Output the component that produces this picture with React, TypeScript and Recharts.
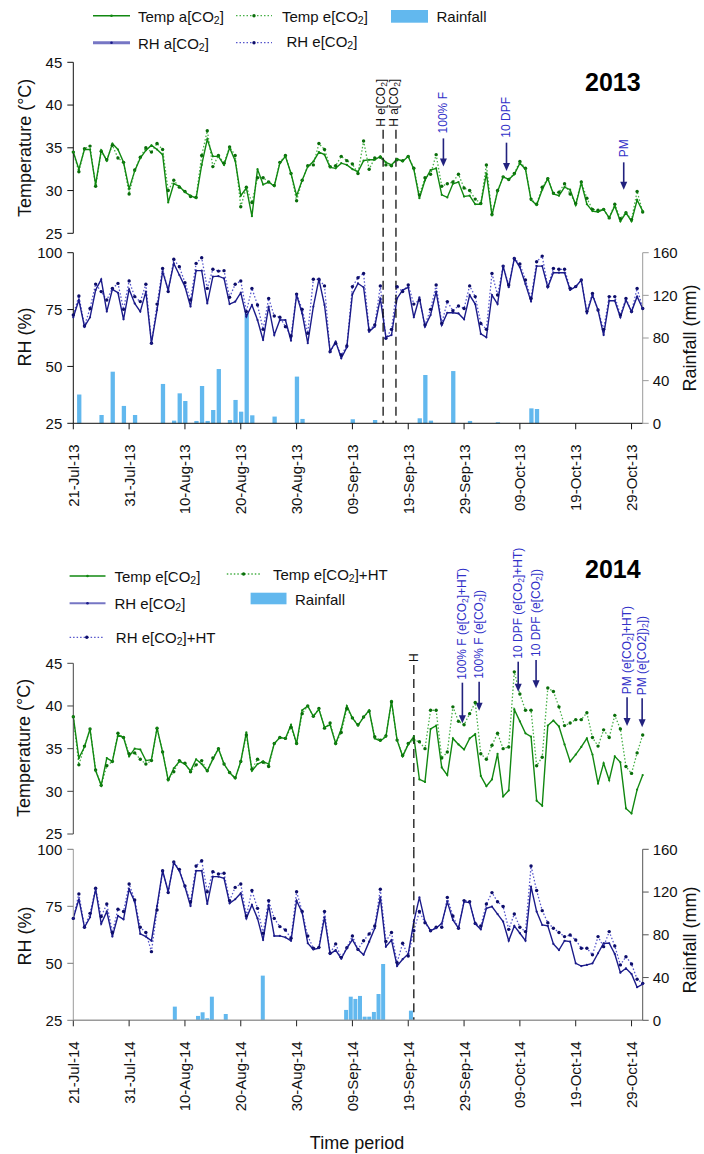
import React from 'react';
import { ComposedChart, Line, Bar, XAxis, YAxis, ReferenceLine } from 'recharts';

const FONT = "'Liberation Sans', Arial, Helvetica, sans-serif";

// ---------- categories / tick labels ----------
const dayTicks = [0, 10, 20, 30, 40, 50, 60, 70, 80, 90, 100];
const dateLabels13 = ['21-Jul-13', '31-Jul-13', '10-Aug-13', '20-Aug-13', '30-Aug-13', '09-Sep-13', '19-Sep-13', '29-Sep-13', '09-Oct-13', '19-Oct-13', '29-Oct-13'];
const dateLabels14 = ['21-Jul-14', '31-Jul-14', '10-Aug-14', '20-Aug-14', '30-Aug-14', '09-Sep-14', '19-Sep-14', '29-Sep-14', '09-Oct-14', '19-Oct-14', '29-Oct-14'];
const tempTicks = [25, 30, 35, 40, 45];
const rhTicks = [25, 50, 75, 100];
const rainTicks = [0, 40, 80, 120, 160];

// ---------- 2013 series (day 0 = 21-Jul) ----------
const temp13A = [34.5, 32.5, 34.8, 34.8, 30.7, 34.7, 33.5, 35.5, 34.8, 33.3,
  30.2, 32.3, 33.8, 34.7, 35.3, 34.8, 34.2, 28.6, 30.8, 30.5,
  29.8, 29.4, 29.1, 33.0, 36.0, 34.0, 34.0, 33.0, 35.0, 33.5,
  29.4, 30.3, 27.0, 32.5, 30.7, 31.0, 30.5, 33.2, 34.0, 32.0,
  29.4, 31.2, 32.8, 33.4, 34.5, 34.2, 32.7, 32.6, 33.2, 33.0,
  32.5, 32.2, 33.5, 33.6, 33.6, 34.0, 33.3, 33.0, 33.7, 33.4,
  34.0, 32.5, 29.1, 31.2, 32.4, 32.6, 29.5, 29.2, 30.8, 31.0,
  29.3, 29.4, 28.4, 28.4, 32.0, 27.1, 29.9, 31.6, 31.3, 31.9,
  33.2, 32.5, 28.9, 28.3, 30.1, 31.4, 29.6, 29.4, 30.4, 30.1,
  28.3, 30.9, 28.4, 27.6, 27.5, 27.8, 26.8, 28.2, 26.4, 27.4,
  26.4, 28.9, 27.6];
const temp13E = [34.5, 32.2, 34.9, 35.2, 30.5, 34.6, 33.6, 35.3, 33.8, 33.3,
  29.6, 32.4, 33.9, 35.0, 34.5, 35.5, 34.8, 30.0, 31.2, 30.4,
  29.9, 29.3, 29.2, 34.1, 37.0, 32.8, 34.1, 33.2, 35.1, 34.1,
  28.1, 30.4, 28.6, 31.5, 31.5, 31.0, 30.6, 33.3, 34.1, 32.0,
  28.8, 31.2, 32.9, 33.0, 35.5, 34.8, 32.8, 32.9, 34.0, 33.5,
  33.1, 32.0, 35.8, 32.5, 33.8, 33.9, 33.0, 32.9, 33.6, 33.5,
  34.0, 32.6, 29.5, 31.5, 31.9, 34.2, 30.5, 30.8, 31.0, 31.9,
  30.3, 30.0, 29.0, 28.5, 33.0, 27.2, 30.0, 31.6, 31.3, 32.0,
  33.4, 32.6, 29.0, 28.4, 30.4, 31.4, 29.7, 29.8, 30.8, 29.6,
  28.5, 31.0, 29.1, 27.8, 27.7, 27.8, 26.8, 28.4, 26.7, 27.4,
  26.6, 29.9, 27.5];
const rh13A = [71.6, 79.2, 67.5, 71.6, 83.6, 88.3, 74.1, 83.9, 82.4, 70.7,
  83.9, 77.7, 74.1, 82.9, 60.2, 74.8, 91.7, 83.6, 95.3, 90.2,
  85.1, 76.3, 92.1, 92.1, 77.7, 89.5, 89.7, 88.7, 77.4, 78.5,
  82.4, 71.9, 77.0, 70.4, 61.6, 76.3, 63.8, 70.4, 70.4, 61.3,
  81.4, 73.3, 60.2, 76.3, 88.3, 77.0, 56.5, 60.9, 53.6, 58.4,
  81.8, 86.5, 84.8, 65.3, 67.5, 79.9, 62.8, 63.8, 79.9, 83.6,
  84.8, 71.6, 80.4, 67.5, 72.6, 82.9, 68.2, 73.6, 73.6, 73.3,
  70.7, 81.4, 77.4, 64.3, 62.8, 81.4, 77.4, 94.1, 84.8, 97.5,
  93.6, 86.2, 78.5, 94.1, 94.1, 84.8, 91.2, 91.2, 91.2, 83.6,
  85.1, 88.0, 73.3, 81.4, 74.8, 63.8, 78.9, 78.9, 71.6, 79.2,
  74.1, 80.7, 75.5];
const rh13E = [72.6, 81.0, 67.8, 75.5, 86.2, 82.9, 79.2, 84.3, 86.5, 75.1,
  87.6, 80.7, 78.5, 86.1, 60.2, 77.4, 93.1, 82.9, 97.1, 93.8,
  86.8, 79.2, 95.3, 97.8, 84.3, 92.7, 91.9, 92.1, 80.4, 86.1,
  87.6, 74.1, 84.3, 77.0, 66.3, 79.9, 72.2, 71.6, 67.5, 63.4,
  81.8, 75.1, 64.6, 88.3, 88.3, 85.4, 56.5, 60.2, 55.0, 59.0,
  85.1, 89.0, 90.9, 66.0, 68.2, 85.4, 62.4, 66.3, 85.1, 82.9,
  85.8, 77.4, 79.2, 68.2, 75.1, 85.8, 68.9, 78.5, 74.5, 76.6,
  75.5, 85.4, 80.7, 68.9, 66.3, 90.9, 81.4, 94.1, 85.8, 97.5,
  95.0, 88.0, 79.9, 96.0, 98.5, 85.1, 93.1, 92.7, 92.7, 84.3,
  85.1, 88.0, 74.1, 82.1, 74.8, 66.3, 80.7, 80.7, 72.6, 79.9,
  74.1, 84.3, 75.5];
const rain13Days = [1, 5, 7, 9, 11, 16, 18, 19, 20, 22, 23, 24, 25, 26, 28, 29, 30, 31, 32, 36, 40, 41, 50, 54, 62, 63, 64, 68, 71, 76, 82, 83];
const rain13Mm = [27, 7.8, 48.4, 16.3, 7.8, 36.9, 2.5, 28.1, 20.9, 2.2, 35.0, 2.2, 12.5, 50.9, 3.1, 21.9, 10.9, 103, 7.5, 6.3, 43.8, 4.1, 3.8, 3.1, 4.7, 45.3, 2.5, 49, 2.2, 1, 14, 13.4];

// ---------- 2014 series ----------
const temp14E = [38.75, 33.9, 35.2, 37.3, 32.4, 30.7, 33.9, 33.5, 36.6, 36.3,
  34.1, 35.0, 34.9, 33.6, 33.7, 37.4, 34.6, 31.3, 32.7, 33.5,
  33.2, 32.4, 33.75, 33.2, 32.4, 33.75, 35.0, 33.2, 32.2, 31.5,
  33.5, 36.9, 32.4, 33.2, 33.5, 33.2, 35.6, 36.3, 36.2, 37.8,
  35.6, 39.5, 40.0, 38.8, 39.6, 37.5, 37.8, 35.6, 37.3, 40.0,
  38.6, 37.7, 38.7, 39.5, 36.2, 35.9, 36.4, 40.6, 36.0, 34.1,
  35.5, 36.4, 31.4, 31.1, 37.3, 37.7, 32.8, 31.9, 36.2, 35.5,
  34.9, 36.2, 36.7, 31.8, 30.6, 31.4, 34.4, 29.4, 30.1, 39.6,
  38.2, 36.8, 36.4, 28.9, 28.3, 37.7, 38.3, 37.6, 35.5, 33.5,
  34.3, 35.2, 36.2, 34.3, 30.9, 33.3, 31.3, 34.1, 33.4, 28.0,
  27.4, 30.2, 31.9];
const temp14H = [38.75, 33.1, 35.3, 37.3, 32.5, 30.7, 33.0, 33.5, 36.8, 36.3,
  34.4, 34.5, 33.75, 33.2, 33.6, 37.4, 34.6, 31.4, 32.3, 33.6,
  33.3, 32.3, 33.1, 33.6, 32.4, 33.9, 35.0, 33.2, 32.2, 31.6,
  33.5, 36.6, 32.6, 33.75, 33.4, 32.9, 35.6, 36.3, 36.2, 37.5,
  35.6, 39.1, 40.0, 38.8, 39.7, 37.4, 38.0, 35.6, 36.9, 39.7,
  38.6, 37.8, 38.7, 39.4, 36.4, 36.0, 36.5, 40.5, 36.0, 34.2,
  35.6, 36.0, 35.8, 35.0, 39.5, 39.5, 33.9, 34.6, 39.9, 38.2,
  37.8, 39.1, 40.4, 34.4, 33.75, 35.4, 36.8, 35.0, 35.2, 44.0,
  41.4, 39.5, 39.5, 33.0, 34.0, 42.1, 41.7, 39.9, 37.7, 38.0,
  38.4, 38.4, 39.2, 36.3, 35.3, 37.2, 36.3, 38.9, 37.3, 32.9,
  32.1, 34.5, 36.6];
const rh14E = [69.7, 78.1, 65.8, 70.2, 82.5, 67.3, 72.7, 61.7, 70.8, 69.3,
  82.5, 77.0, 62.9, 61.7, 59.9, 75.1, 90.6, 81.4, 94.2, 90.6,
  83.6, 75.1, 90.6, 90.6, 76.0, 88.0, 88.0, 87.3, 76.3, 78.1,
  80.7, 69.7, 75.6, 69.7, 60.2, 75.6, 62.0, 62.0, 61.4, 59.9,
  77.5, 72.2, 58.8, 56.1, 56.6, 70.2, 54.1, 55.8, 52.0, 56.6,
  60.4, 56.0, 53.7, 59.5, 65.4, 78.9, 57.3, 60.2, 48.8, 51.8,
  54.1, 68.3, 78.9, 68.3, 64.3, 65.4, 67.5, 77.0, 69.0, 65.4,
  77.0, 76.6, 67.3, 64.9, 74.1, 74.9, 71.6, 68.3, 59.9, 66.4,
  63.2, 59.9, 83.6, 72.7, 66.8, 66.4, 58.5, 55.8, 59.9, 59.5,
  50.0, 48.8, 49.3, 50.0, 54.4, 58.8, 58.8, 54.1, 45.9, 47.8,
  45.3, 39.5, 40.9];
const rh14H = [69.7, 80.4, 65.8, 71.9, 82.9, 70.5, 76.0, 63.5, 73.7, 72.7,
  84.8, 77.8, 65.8, 63.5, 55.1, 73.4, 90.6, 81.0, 94.4, 91.2,
  83.9, 77.0, 92.7, 95.0, 81.4, 90.2, 89.2, 89.5, 77.5, 83.3,
  84.8, 70.8, 81.9, 74.1, 63.2, 77.5, 69.7, 66.1, 64.6, 61.0,
  81.4, 72.7, 62.0, 56.6, 57.0, 72.7, 54.4, 58.5, 52.6, 56.8,
  62.0, 56.1, 59.9, 62.9, 66.4, 82.5, 59.6, 63.5, 50.3, 58.8,
  53.2, 64.3, 72.7, 67.8, 64.3, 65.8, 65.8, 78.9, 70.8, 65.4,
  77.5, 77.0, 67.5, 66.4, 76.0, 81.0, 77.0, 74.9, 64.9, 71.6,
  65.8, 63.9, 92.7, 81.9, 73.1, 67.8, 65.4, 63.5, 61.7, 62.4,
  60.2, 56.6, 56.6, 53.7, 61.7, 57.3, 63.9, 57.6, 49.3, 52.9,
  49.7, 43.0, 41.2];
// rainfall bars of 2014 sit on their own (wider) day series in the original
const rain14Idx = [22, 27, 28, 29, 30, 33, 41, 59, 60, 61, 62, 63, 64, 65, 66, 67, 73];
const rain14Mm = [12.8, 4.1, 7.5, 1.9, 22.1, 5.9, 41.8, 9.7, 22.1, 20.0, 22.8, 3.4, 3.4, 7.8, 24.6, 52.7, 9.0];

// ---------- annotations (in data units) ----------
const harvest13Days = [55.5, 57.8];
const harvest13Top = 37.1;
const arrows13Days = [66.3, 77.6, 98.6];
const arrows13Top = [36.1, 35.6, 33.3];
const arrows13Bottom = [32.8, 32.3, 30.1];
const harvest14Day = 61.0;
const arrows14Days = [69.7, 72.7, 79.7, 82.9, 99.2, 101.9];
const arrows14Top = [42.73, 42.84, 45.19, 45.39, 41.02, 40.9];
const arrows14Bottom = [37.97, 39.45, 41.67, 42.07, 37.65, 37.5];

// ---------- colours ----------
const GREEN = '#118811';
const GREEN_DOT_LINE = '#47b047';
const GREEN_MARK = '#0a6e0a';
const NAVY = '#1b1b8a';
const NAVY_DOT_LINE = '#5656cc';
const NAVY_MARK = '#0d0d6a';
const LAVENDER = '#7676c4';
const RAIN = '#62b8ee';
const ANNOT_TEXT = '#3030c8';
const ANNOT_ARROW = '#22227e';

// ---------- built tables ----------
const rows13T = temp13A.map((v, i) => ({ d: i, a: v, e: temp13E[i] }));
const rows13R = rh13A.map((v, i) => {
  const j = rain13Days.indexOf(i);
  return { d: i, a: v, e: rh13E[i], rain: j >= 0 ? rain13Mm[j] : null };
});
const rows14T = temp14E.map((v, i) => ({ d: i, a: v, e: temp14H[i] }));
const rows14R = rh14E.map((v, i) => ({ d: i, a: v, e: rh14H[i] }));
const rain14Rows = rain14Idx.map((k, i) => ({ k, rain: rain14Mm[i] }));

type Seg = { t: string; sub?: boolean };
const co2 = (pre: string, post: string): Seg[] => [{ t: pre + 'CO' }, { t: '2', sub: true }, { t: ']' + post }];

const lbl13 = [[{ t: '100% F' }], [{ t: '10 DPF' }], [{ t: 'PM' }]] as Seg[][];
const lbl14: Seg[][] = [
  co2('100% F (e[', '+HT)'),
  co2('100% F (e[', ')'),
  co2('10 DPF (e[', '+HT)'),
  co2('10 DPF (e[', ')'),
  co2('PM (e[', '+HT)'),
  [{ t: 'PM (e[CO2])' }, { t: '2', sub: true }, { t: '])' }],
];
const harvestLbl13: Seg[][] = [co2('H e[', ''), co2('H a[', '')];

// ---------- helpers ----------
const RotLabel = ({ x, y, parts, fill, size }: { x: number; y: number; parts: Seg[]; fill: string; size: number }) => (
  <text x={x} y={y} transform={`rotate(-90 ${x} ${y})`} textAnchor="start" dominantBaseline="central"
    fontSize={size} fill={fill} fontFamily={FONT}>
    {parts.map((p, i) => {
      if (p.sub) return <tspan key={i} fontSize={size * 0.7} dy={3}>{p.t}</tspan>;
      const prevSub = i > 0 && parts[i - 1].sub;
      return <tspan key={i} dy={prevSub ? -3 : 0}>{p.t}</tspan>;
    })}
  </text>
);

const HText = ({ x, y, parts, size = 15, fill = '#111' }: { x: number; y: number; parts: Seg[]; size?: number; fill?: string }) => (
  <text x={x} y={y} dominantBaseline="central" fontSize={size} fontFamily={FONT} fill={fill}>
    {parts.map((p, i) => {
      if (p.sub) return <tspan key={i} fontSize={size * 0.7} dy={4}>{p.t}</tspan>;
      const prevSub = i > 0 && parts[i - 1].sub;
      return <tspan key={i} dy={prevSub ? -4 : 0}>{p.t}</tspan>;
    })}
  </text>
);

const arrowShape = (parts: Seg[], gap: number) => (p: any) => {
  const x = p.x1;
  const top = Math.min(p.y1, p.y2);
  const bot = Math.max(p.y1, p.y2);
  return (
    <g>
      <line x1={x} y1={top} x2={x} y2={bot - 6} stroke={ANNOT_ARROW} strokeWidth={1.6} />
      <polygon points={`${x - 3.5},${bot - 8} ${x + 3.5},${bot - 8} ${x},${bot}`} fill={ANNOT_ARROW} />
      <RotLabel x={x} y={top - gap} parts={parts} fill={ANNOT_TEXT} size={12} />
    </g>
  );
};

const dashedShape = (parts: Seg[] | null, dx: number) => (p: any) => {
  const x = p.x1;
  const top = Math.min(p.y1, p.y2);
  const bot = Math.max(p.y1, p.y2);
  return (
    <g>
      <line x1={x} y1={top} x2={x} y2={bot} stroke="#111" strokeWidth={1.3} strokeDasharray="9 5" />
      {parts && <RotLabel x={x + dx} y={top - 3} parts={parts} fill="#111" size={12} />}
    </g>
  );
};

const makeDateTick = (labels: string[]) => (props: any) => {
  const { x, y, payload } = props;
  const label = labels[Math.round(payload.value / 10)];
  const yy = y + 13;
  return (
    <text x={x} y={yy} transform={`rotate(-90 ${x} ${yy})`} textAnchor="end" dominantBaseline="central"
      fontSize={15} fontFamily={FONT} fill="#111">{label}</text>
  );
};

const tickStyle = { fontSize: 15, fill: '#111', fontFamily: FONT };
const PLOT_LEFT = 73.3;
const RIGHT_W = 61.3;

const solidLine = (key: string, color: string, xId = 'm', yId = 't', data?: any[]) => (
  <Line key={key + 's'} xAxisId={xId} yAxisId={yId} data={data} dataKey={key} type="linear" stroke={color} strokeWidth={1.4}
    dot={{ r: 1.1, fill: color, stroke: 'none' }} activeDot={false} isAnimationActive={false} />
);
const dottedLine = (key: string, color: string, mark: string, xId = 'm', yId = 't', data?: any[]) => (
  <Line key={key + 'd'} xAxisId={xId} yAxisId={yId} data={data} dataKey={key} type="linear" stroke={color} strokeWidth={1.3}
    strokeDasharray="1.5 2" dot={{ r: 1.7, fill: mark, stroke: 'none' }} activeDot={false} isAnimationActive={false} />
);

export default function App() {
  return (
    <div style={{ position: 'absolute', left: 0, top: 0, width: 704, height: 1154, background: '#fff', overflow: 'hidden' }}>
      {/* 2013 temperature */}
      <div style={{ position: 'absolute', left: 0, top: 0 }}>
        <ComposedChart width={704} height={256} data={rows13T} margin={{ top: 62.3, right: RIGHT_W, bottom: 22.7, left: 0 }}>
          <XAxis xAxisId="m" type="number" dataKey="d" domain={[0, 102]} hide />
          <YAxis yAxisId="t" domain={[25, 45]} ticks={tempTicks} interval={0} width={PLOT_LEFT} tickSize={6} tickMargin={5}
            axisLine={{ stroke: '#111' }} tickLine={{ stroke: '#111' }} tick={tickStyle} />
          {dottedLine('e', GREEN_DOT_LINE, GREEN_MARK)}
          {solidLine('a', GREEN)}
          {harvest13Days.map((d, i) => (
            <ReferenceLine key={'h' + i} xAxisId="m" yAxisId="t" ifOverflow="visible"
              segment={[{ x: d, y: harvest13Top }, { x: d, y: 22.7 }]} shape={dashedShape(harvestLbl13[i], -2)} />
          ))}
          {arrows13Days.map((d, i) => (
            <ReferenceLine key={'a' + i} xAxisId="m" yAxisId="t" ifOverflow="visible"
              segment={[{ x: d, y: arrows13Top[i] }, { x: d, y: arrows13Bottom[i] }]} shape={arrowShape(lbl13[i], 5)} />
          ))}
        </ComposedChart>
      </div>

      {/* 2013 RH + rainfall */}
      <div style={{ position: 'absolute', left: 0, top: 240 }}>
        <ComposedChart width={704} height={285} data={rows13R} margin={{ top: 12.7, right: 0, bottom: 6.7, left: 0 }}>
          <XAxis xAxisId="m" type="number" dataKey="d" domain={[0, 102]} ticks={dayTicks} interval={0} height={95}
            tickSize={6} tickMargin={2} axisLine={{ stroke: '#111' }} tickLine={{ stroke: '#111' }} tick={makeDateTick(dateLabels13)} />
          <YAxis yAxisId="l" domain={[25, 100]} ticks={rhTicks} interval={0} width={PLOT_LEFT} tickSize={6} tickMargin={5}
            axisLine={{ stroke: '#111' }} tickLine={{ stroke: '#111' }} tick={tickStyle} />
          <YAxis yAxisId="r" orientation="right" domain={[0, 160]} ticks={rainTicks} interval={0} width={RIGHT_W} tickSize={6} tickMargin={4}
            axisLine={{ stroke: '#9a9a9a' }} tickLine={{ stroke: '#9a9a9a' }} tick={tickStyle} />
          <Bar xAxisId="m" yAxisId="r" dataKey="rain" fill={RAIN} barSize={4.3} isAnimationActive={false} />
          {dottedLine('e', NAVY_DOT_LINE, NAVY_MARK, 'm', 'l')}
          {solidLine('a', NAVY, 'm', 'l')}
          {harvest13Days.map((d, i) => (
            <ReferenceLine key={'h' + i} xAxisId="m" yAxisId="l" ifOverflow="visible"
              segment={[{ x: d, y: 100 }, { x: d, y: 25 }]} shape={dashedShape(null, 0)} />
          ))}
        </ComposedChart>
      </div>

      {/* 2014 temperature */}
      <div style={{ position: 'absolute', left: 0, top: 530 }}>
        <ComposedChart width={704} height={320} data={rows14T} margin={{ top: 133.3, right: RIGHT_W, bottom: 16, left: 0 }}>
          <XAxis xAxisId="m" type="number" dataKey="d" domain={[0, 102]} hide />
          <YAxis yAxisId="t" domain={[25, 45]} ticks={tempTicks} interval={0} width={PLOT_LEFT} tickSize={6} tickMargin={5}
            axisLine={{ stroke: '#444' }} tickLine={{ stroke: '#444' }} tick={tickStyle} />
          {dottedLine('e', GREEN_DOT_LINE, GREEN_MARK)}
          {solidLine('a', GREEN)}
          <ReferenceLine xAxisId="m" yAxisId="t" ifOverflow="visible"
            segment={[{ x: harvest14Day, y: 44.8 }, { x: harvest14Day, y: 23.2 }]} shape={dashedShape([{ t: 'H' }], 0)} />
          {arrows14Days.map((d, i) => (
            <ReferenceLine key={'a' + i} xAxisId="m" yAxisId="t" ifOverflow="visible"
              segment={[{ x: d, y: arrows14Top[i] }, { x: d, y: arrows14Bottom[i] }]} shape={arrowShape(lbl14[i], 3)} />
          ))}
        </ComposedChart>
      </div>

      {/* 2014 RH + rainfall */}
      <div style={{ position: 'absolute', left: 0, top: 840 }}>
        <ComposedChart width={704} height={314} data={rain14Rows} margin={{ top: 9.3, right: 0, bottom: 33.7, left: 0 }}>
          <XAxis xAxisId="m" type="number" dataKey="d" domain={[0, 102]} ticks={dayTicks} interval={0} height={100}
            tickSize={6} tickMargin={2} axisLine={{ stroke: '#9a9a9a', strokeWidth: 1.5 }} tickLine={{ stroke: '#222' }} tick={makeDateTick(dateLabels14)} />
          <XAxis xAxisId="rain" type="number" dataKey="k" domain={[0, 123]} hide />
          <YAxis yAxisId="l" domain={[25, 100]} ticks={rhTicks} interval={0} width={PLOT_LEFT} tickSize={6} tickMargin={5}
            axisLine={{ stroke: '#9a9a9a' }} tickLine={{ stroke: '#777' }} tick={tickStyle} />
          <YAxis yAxisId="r" orientation="right" domain={[0, 160]} ticks={rainTicks} interval={0} width={RIGHT_W} tickSize={6} tickMargin={4}
            axisLine={{ stroke: '#555' }} tickLine={{ stroke: '#555' }} tick={tickStyle} />
          <Bar xAxisId="rain" yAxisId="r" dataKey="rain" fill={RAIN} barSize={4} isAnimationActive={false} />
          {dottedLine('e', NAVY_DOT_LINE, NAVY_MARK, 'm', 'l', rows14R)}
          {solidLine('a', NAVY, 'm', 'l', rows14R)}
          <ReferenceLine xAxisId="m" yAxisId="l" ifOverflow="visible"
            segment={[{ x: harvest14Day, y: 100 }, { x: harvest14Day, y: 25 }]} shape={dashedShape(null, 0)} />
        </ComposedChart>
      </div>

      {/* legends, titles, axis names */}
      <svg width={704} height={1154} style={{ position: 'absolute', left: 0, top: 0, pointerEvents: 'none' }}>
        {/* 2013 legend */}
        <line x1={93} x2={130} y1={15.7} y2={15.7} stroke={GREEN} strokeWidth={1.5} />
        <circle cx={111.5} cy={15.7} r={1.3} fill={GREEN} />
        <HText x={138} y={16} parts={co2('Temp a[', '')} />
        <line x1={236} x2={272} y1={15.7} y2={15.7} stroke={GREEN_DOT_LINE} strokeWidth={1.3} strokeDasharray="1.5 2" />
        <circle cx={254} cy={15.7} r={1.7} fill={GREEN_MARK} />
        <HText x={282} y={16} parts={co2('Temp e[', '')} />
        <rect x={391} y={10} width={37} height={12.7} fill={RAIN} />
        <HText x={436.5} y={16} parts={[{ t: 'Rainfall' }]} />
        <line x1={93} x2={130} y1={42.7} y2={42.7} stroke={LAVENDER} strokeWidth={3} />
        <circle cx={111.5} cy={42.7} r={1.3} fill={NAVY} />
        <HText x={138} y={43} parts={co2('RH a[', '')} />
        <line x1={236} x2={272} y1={42.7} y2={42.7} stroke={NAVY_DOT_LINE} strokeWidth={1.3} strokeDasharray="1.5 2" />
        <circle cx={254} cy={42.7} r={1.7} fill={NAVY_MARK} />
        <HText x={286.5} y={41} parts={co2('RH e[', '')} />
        <text x={585} y={82} dominantBaseline="central" fontSize={25} fontWeight="bold" fontFamily={FONT} fill="#000">2013</text>

        {/* 2014 legend */}
        <line x1={69.6} x2={105.5} y1={576} y2={576} stroke={GREEN} strokeWidth={1.5} />
        <circle cx={87.5} cy={576} r={1.3} fill={GREEN} />
        <HText x={114.5} y={576} parts={co2('Temp e[', '')} />
        <line x1={226.8} x2={260.4} y1={574} y2={574} stroke={GREEN_DOT_LINE} strokeWidth={1.3} strokeDasharray="1.5 2" />
        <circle cx={243.6} cy={574} r={1.7} fill={GREEN_MARK} />
        <HText x={273} y={574} parts={co2('Temp e[', '+HT')} />
        <line x1={69.6} x2={105.5} y1={603.3} y2={603.3} stroke={LAVENDER} strokeWidth={2} />
        <circle cx={87.5} cy={603.3} r={1.3} fill={NAVY} />
        <HText x={114.5} y={603.3} parts={co2('RH e[', '')} />
        <rect x={250.6} y={592.7} width={35.9} height={11.6} fill={RAIN} />
        <HText x={295} y={599} parts={[{ t: 'Rainfall' }]} />
        <line x1={69.6} x2={104} y1={637.3} y2={637.3} stroke={NAVY_DOT_LINE} strokeWidth={1.3} strokeDasharray="1.5 2" />
        <circle cx={86.8} cy={637.3} r={1.7} fill={NAVY_MARK} />
        <HText x={115.8} y={637.3} parts={co2('RH e[', '+HT')} />
        <text x={585} y={569} dominantBaseline="central" fontSize={25} fontWeight="bold" fontFamily={FONT} fill="#000">2014</text>

        {/* axis titles */}
        {[
          { x: 25.5, y: 147.8, t: 'Temperature (°C)' },
          { x: 25, y: 337, t: 'RH (%)' },
          { x: 690, y: 338, t: 'Rainfall (mm)' },
          { x: 24, y: 748, t: 'Temperature (°C)' },
          { x: 25, y: 936, t: 'RH (%)' },
          { x: 690, y: 940, t: 'Rainfall (mm)' },
        ].map((a, i) => (
          <text key={i} x={a.x} y={a.y} transform={`rotate(-90 ${a.x} ${a.y})`} textAnchor="middle" dominantBaseline="central"
            fontSize={18} fontFamily={FONT} fill="#111">{a.t}</text>
        ))}
        <text x={357} y={1142.7} textAnchor="middle" dominantBaseline="central" fontSize={18} fontFamily={FONT} fill="#111">Time period</text>
      </svg>
    </div>
  );
}
